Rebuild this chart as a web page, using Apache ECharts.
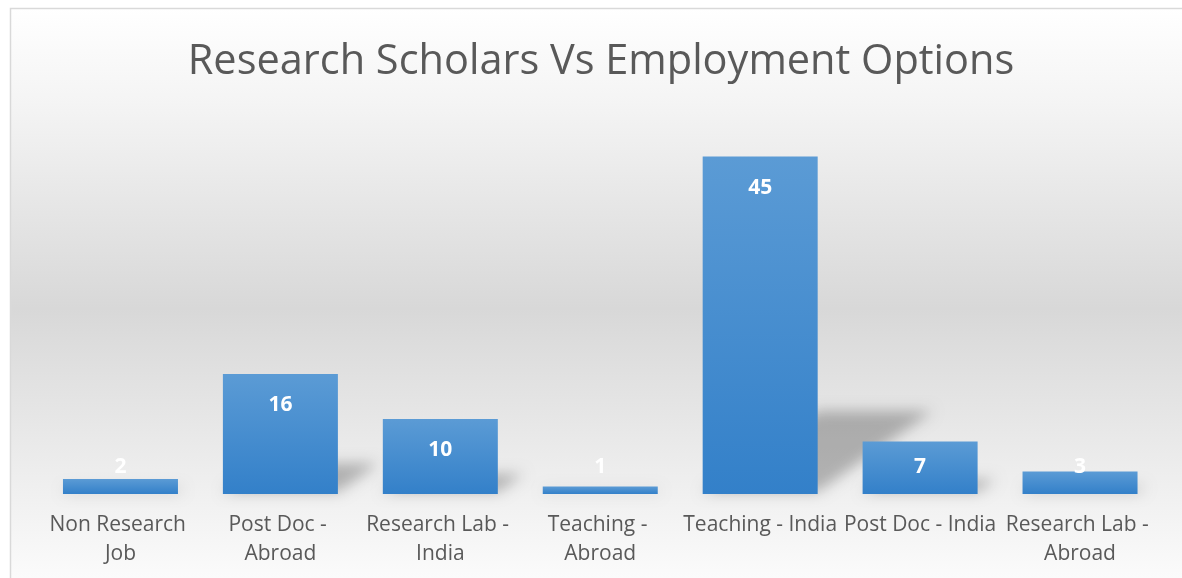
<!DOCTYPE html>
<html>
<head>
<meta charset="utf-8">
<script src="https://cdn.jsdelivr.net/npm/echarts@6/dist/echarts.min.js"></script>
<style>
html,body{margin:0;padding:0;background:#fff;}
#chart{width:1182px;height:578px;}
</style>
</head>
<body>
<div id="chart"></div>
<script>
var titleText = 'Research Scholars Vs Employment Options';
var categories = ['Non Research Job', 'Post Doc - Abroad', 'Research Lab - India', 'Teaching - Abroad', 'Teaching - India', 'Post Doc - India', 'Research Lab - Abroad'];
var values = [2, 16, 10, 1, 45, 7, 3];

var chart = echarts.init(document.getElementById('chart'));
var FONT = '"Open Sans", "Noto Sans", sans-serif';

var barData = values.map(function (v) {
  var small = v < 8;
  return {
    value: v,
    label: small ? { position: 'insideBottom', distance: 16 } : { position: 'insideTop', distance: 21 }
  };
});

var OFF = 3000;

var option = {
  animation: false,
  graphic: [{
    type: 'rect',
    silent: true,
    z: -10,
    shape: { x: 10.5, y: 8.5, width: 1200, height: 600 },
    style: {
      fill: new echarts.graphic.LinearGradient(0, 0, 0, 1, [
        { offset: 0, color: '#ffffff' },
        { offset: 0.16, color: '#f4f4f4' },
        { offset: 0.5, color: '#d8d8d8' },
        { offset: 0.82, color: '#f1f1f1' },
        { offset: 1, color: '#ffffff' }
      ]),
      stroke: '#d9d9d9',
      lineWidth: 1.5
    }
  }],
  title: {
    text: titleText,
    left: 596,
    textAlign: 'center',
    top: 36,
    textStyle: { fontFamily: FONT, fontSize: 41.5, fontWeight: 'normal', color: '#595959' }
  },
  grid: { left: 40.5, right: 22, top: 119, bottom: 84, containLabel: false },
  xAxis: {
    type: 'category',
    data: categories,
    axisLine: { show: false },
    axisTick: { show: false },
    axisLabel: {
      interval: 0,
      margin: 17,
      width: 158,
      overflow: 'break',
      lineHeight: 29,
      fontFamily: FONT,
      fontSize: 21,
      color: '#595959'
    }
  },
  yAxis: {
    type: 'value',
    min: 0,
    max: 50,
    show: false,
    splitLine: { show: false }
  },
  series: [{
    type: 'custom',
    z: 1,
    silent: true,
    data: values.map(function (v, i) { return [i, v]; }),
    renderItem: function (params, api) {
      var idx = api.value(0), v = api.value(1);
      var top = api.coord([idx, v]);
      var base = api.coord([idx, 0]);
      var half = 57.5;
      var h = base[1] - top[1];
      var dx = 0.34 * h, dy = 0.24 * h;
      var x0 = base[0] - half - OFF, x1 = base[0] + half - OFF, y = base[1] - 2;
      return {
        type: 'polygon',
        shape: { points: [[x0, y], [x1, y], [x1 + dx, y - dy], [x0 + dx, y - dy]] },
        style: {
          fill: '#000',
          shadowBlur: 14,
          shadowOffsetX: OFF,
          shadowColor: 'rgba(0,0,0,0.26)'
        }
      };
    }
  }, {
    type: 'bar',
    z: 3,
    data: barData,
    barWidth: 115,
    itemStyle: {
      color: new echarts.graphic.LinearGradient(0, 0, 0, 1, [
        { offset: 0, color: '#5b9bd5' },
        { offset: 1, color: '#3380c9' }
      ])
    },
    label: {
      show: true,
      color: '#ffffff',
      fontFamily: FONT,
      fontWeight: 'bold',
      fontSize: 21
    }
  }]
};
chart.setOption(option);
</script>
</body>
</html>
